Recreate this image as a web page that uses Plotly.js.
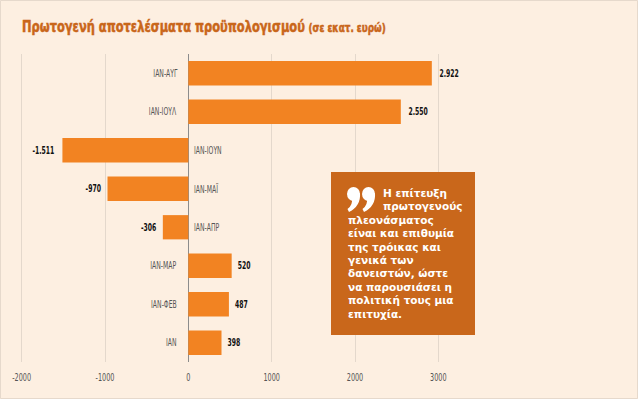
<!DOCTYPE html>
<html><head><meta charset="utf-8">
<script src="https://cdn.plot.ly/plotly-3.0.1.min.js"></script>
<style>html,body{margin:0;padding:0;background:#fdefe1;}</style>
</head><body>
<div id="chart" style="width:638px;height:399px;"></div>
<script>
const categories = ['ΙΑΝ','ΙΑΝ-ΦΕΒ','ΙΑΝ-ΜΑΡ','ΙΑΝ-ΑΠΡ','ΙΑΝ-ΜΑΪ','ΙΑΝ-ΙΟΥΝ','ΙΑΝ-ΙΟΥΛ','ΙΑΝ-ΑΥΓ'];
const values = [398, 487, 520, -306, -970, -1511, 2550, 2922];
const tickValues = [-2000, -1000, 0, 1000, 2000, 3000];
const tickLabels = ['-2000', '-1000', '0', '1000', '2000', '3000'];
const titleText = 'Πρωτογενή αποτελέσματα προϋπολογισμού';
const subtitleText = '(σε εκατ. ευρώ)';
const quoteLines = ['Η επίτευξη','πρωτογενούς','πλεονάσματος','είναι και επιθυμία','της τρόικας και','γενικά των','δανειστών, ώστε','να παρουσιάσει η','πολιτική τους μια','επιτυχία.'];

const W = 638, H = 399;
const M = {l: 5, r: 8, t: 54, b: 37, pad: 0};
const px = x => (x - M.l) / (W - M.l - M.r);
const py = y => (H - M.b - y) / (H - M.t - M.b);
const NARROW = 'DejaVu Sans Condensed, sans-serif';

const trace = {
  type: 'bar', orientation: 'h',
  y: categories, x: values,
  marker: {color: '#f28322'},
  texttemplate: '%{x:,}',
  textposition: 'outside',
  textfont: {family: NARROW, size: 10, color: '#111', weight: 'bold'},
  cliponaxis: false,
  hoverinfo: 'skip'
};

const annotations = categories.map((c, i) => ({
  x: 0, y: c, xref: 'x', yref: 'y',
  text: c, showarrow: false,
  xanchor: values[i] >= 0 ? 'right' : 'left',
  align: values[i] >= 0 ? 'right' : 'left',
  xshift: values[i] >= 0 ? -9 : 4,
  font: {family: NARROW, size: 10, color: '#555'}
}));
const nCatAnn = annotations.length;

quoteLines.forEach((t, i) => {
  annotations.push({
    xref: 'paper', yref: 'paper',
    x: px(i < 2 ? 381 : 346), y: py(193 + i * 13.4),
    xanchor: 'left', yanchor: 'middle', showarrow: false,
    text: '<b>' + t + '</b>',
    font: {family: 'DejaVu Sans', size: 10.5, color: '#ffffff'}
  });
});

function quoteMark(x0, y0) {
  const p = (x, y) => px(x) + ',' + py(y);
  return [
    {type: 'circle', xref: 'paper', yref: 'paper', x0: px(x0), x1: px(x0 + 13), y0: py(y0), y1: py(y0 + 14),
     fillcolor: '#ffffff', line: {width: 0}},
    {type: 'path', xref: 'paper', yref: 'paper',
     path: 'M' + p(x0 + 13, y0 + 6) + ' Q' + p(x0 + 14, y0 + 19) + ' ' + p(x0 + 2, y0 + 25) +
           ' L' + p(x0 + 0.5, y0 + 22) + ' Q' + p(x0 + 6, y0 + 18) + ' ' + p(x0 + 5, y0 + 11) + ' Z',
     fillcolor: '#ffffff', line: {width: 0}}
  ];
}

const shapes = [
  {type: 'rect', xref: 'paper', yref: 'paper', x0: px(331), x1: px(475), y0: py(172), y1: py(335),
   fillcolor: '#c9671b', line: {width: 0}, layer: 'above'},
  ...quoteMark(347, 187), ...quoteMark(362, 187),
  {type: 'rect', xref: 'paper', yref: 'paper', x0: px(0.5), x1: px(637.5), y0: py(0.5), y1: py(398.5),
   fillcolor: 'rgba(0,0,0,0)', line: {width: 1, color: '#e6d9cc'}}
];

const layout = {
  width: W, height: H, margin: M,
  paper_bgcolor: '#fdefe1', plot_bgcolor: '#fdefe1',
  separators: ',.',
  showlegend: false,
  bargap: 0.37,
  title: {
    text: '<b>' + titleText + '</b> <span style="font-size:12px"><b>' + subtitleText + '</b></span>',
    x: 22 / W, xref: 'container', xanchor: 'left',
    y: 1 - 27 / H, yref: 'container', yanchor: 'middle',
    font: {family: NARROW, size: 15.5, color: '#c9661a'}
  },
  xaxis: {
    range: [-2200, 5300], tickvals: tickValues, ticktext: tickLabels,
    showgrid: true, gridcolor: '#e4d8cc', gridwidth: 1,
    zeroline: true, zerolinecolor: '#8c8c8c', zerolinewidth: 1,
    showline: false, ticks: '', ticklabelstandoff: 8,
    tickfont: {family: NARROW, size: 10, color: '#555'},
    fixedrange: true
  },
  yaxis: {
    range: [-0.5, 7.5], showticklabels: false, showgrid: false, zeroline: false,
    showline: false, ticks: '', fixedrange: true
  },
  annotations: annotations,
  shapes: shapes
};

function squeeze(el, f) {
  const w = el.getComputedTextLength();
  if (w > 0) {
    el.setAttribute('textLength', (w * f).toFixed(2));
    el.setAttribute('lengthAdjust', 'spacingAndGlyphs');
  }
}

Plotly.newPlot('chart', [trace], layout, {displayModeBar: false, staticPlot: true}).then(gd => {
  gd.querySelectorAll('.xtick text').forEach(el => squeeze(el, 0.72));
  gd.querySelectorAll('text.bartext').forEach(el => squeeze(el, 0.68));
  gd.querySelectorAll('g.annotation').forEach(g => {
    const idx = +g.getAttribute('data-index');
    if (idx < nCatAnn) {
      const t = g.querySelector('text.annotation-text');
      if (t) squeeze(t, 0.68);
    }
  });
  const title = gd.querySelector('.gtitle');
  if (title) {
    title.style.transformBox = 'fill-box';
    title.style.transformOrigin = '0% 50%';
    title.style.transform = 'scaleX(0.82)';
    title.style.stroke = '#c9661a';
    title.style.strokeWidth = '0.5px';
  }
});
</script>
</body></html>
